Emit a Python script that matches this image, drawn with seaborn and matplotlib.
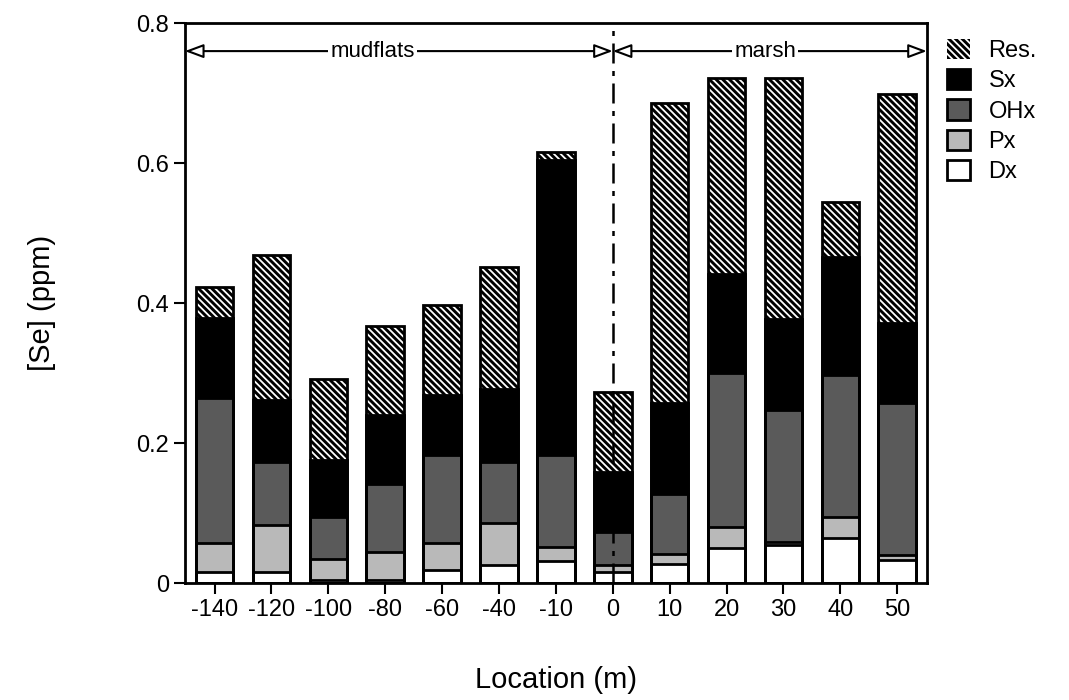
import numpy as np
import pandas as pd
import matplotlib
matplotlib.use("Agg")
import matplotlib.pyplot as plt
import seaborn as sns
from matplotlib.patches import Patch

# ---------------- data (ppm, per fraction) ----------------
locations = ["-140", "-120", "-100", "-80", "-60", "-40", "-10",
             "0", "10", "20", "30", "40", "50"]
dx  = [0.016, 0.016, 0.004, 0.004, 0.019, 0.026, 0.032, 0.016, 0.027, 0.050, 0.054, 0.065, 0.033]
px  = [0.041, 0.067, 0.031, 0.041, 0.038, 0.060, 0.020, 0.010, 0.014, 0.030, 0.005, 0.030, 0.007]
ohx = [0.207, 0.090, 0.060, 0.097, 0.126, 0.087, 0.131, 0.047, 0.086, 0.220, 0.188, 0.202, 0.218]
sx  = [0.115, 0.088, 0.081, 0.098, 0.086, 0.105, 0.421, 0.086, 0.130, 0.142, 0.131, 0.169, 0.113]
res = [0.044, 0.208, 0.116, 0.127, 0.129, 0.174, 0.012, 0.114, 0.429, 0.279, 0.343, 0.079, 0.328]
fractions = ["Res.", "Sx", "OHx", "Px", "Dx"]
yticks = [0, 0.2, 0.4, 0.6, 0.8]
ytick_labels = ["0", "0.2", "0.4", "0.6", "0.8"]
zone_labels = ["mudflats", "marsh"]

# ---------------- style ----------------
sns.set_style("ticks")
plt.rcParams["font.family"] = ["Liberation Sans", "DejaVu Sans"]
plt.rcParams["hatch.linewidth"] = 1.3
plt.rcParams["text.color"] = "black"
plt.rcParams["axes.labelcolor"] = "black"
plt.rcParams["xtick.color"] = "black"
plt.rcParams["ytick.color"] = "black"

C_OHX = "#5a5a5a"
C_PX = "#b9b9b9"
HATCH = "\\\\\\\\\\"
EW = 2.0

fig, ax = plt.subplots(figsize=(10.69, 7), dpi=100)
fig.subplots_adjust(left=0.173, right=0.867, bottom=0.167, top=0.967)

c_dx = np.array(dx)
c_px = c_dx + np.array(px)
c_ohx = c_px + np.array(ohx)
c_sx = c_ohx + np.array(sx)
c_res = c_sx + np.array(res)

df = pd.DataFrame({"loc": locations, "Dx": c_dx, "Px": c_px, "OHx": c_ohx,
                   "Sx": c_sx, "Res.": c_res})

W = 0.66
common = dict(data=df, x="loc", order=locations, width=W, ax=ax, errorbar=None)
sns.barplot(y="Res.", color="black", edgecolor="white", linewidth=0, hatch=HATCH, **common)
sns.barplot(y="Sx", color="black", edgecolor="black", linewidth=EW, **common)
sns.barplot(y="OHx", color=C_OHX, edgecolor="black", linewidth=EW, **common)
sns.barplot(y="Px", color=C_PX, edgecolor="black", linewidth=EW, **common)
sns.barplot(y="Dx", color="white", edgecolor="black", linewidth=EW, **common)
sns.barplot(y="Res.", fill=False, color="black", linewidth=EW, **common)

x0 = locations.index("0")
ax.set_xlim(-0.52, len(locations) - 0.48)
ax.set_ylim(0, 0.8)
ax.set_yticks(yticks)
ax.set_yticklabels(ytick_labels)

# dash-dot separator
ax.axvline(x0, color="black", lw=1.8, dashes=(8, 3, 2, 3), zorder=5)

# zone arrows
yarr = 0.76
aprops = dict(arrowstyle="<|-|>,head_length=0.75,head_width=0.28", fc="white",
              ec="black", lw=1.5, shrinkA=0, shrinkB=0, mutation_scale=15)
xl, xr = ax.get_xlim()
ax.annotate("", xy=(xl, yarr), xytext=(x0, yarr), arrowprops=aprops, zorder=6,
            annotation_clip=False)
ax.annotate("", xy=(x0, yarr), xytext=(xr, yarr), arrowprops=aprops, zorder=6,
            annotation_clip=False)
ax.text(2.78, yarr, zone_labels[0], ha="center", va="center", fontsize=16, zorder=7,
        bbox=dict(fc="white", ec="none", pad=1.5))
ax.text(9.68, yarr, zone_labels[1], ha="center", va="center", fontsize=16, zorder=7,
        bbox=dict(fc="white", ec="none", pad=1.5))

# axes cosmetics
for s in ax.spines.values():
    s.set_visible(True)
    s.set_linewidth(2)
    s.set_color("black")
ax.tick_params(direction="out", length=8, width=1.5, labelsize=17, colors="black")
ax.set_xlabel("Location (m)", fontsize=21, labelpad=32)
ax.set_ylabel("[Se] (ppm)", fontsize=21, labelpad=58)

# legend
handles = [
    Patch(facecolor="black", edgecolor="white", hatch=HATCH, lw=0),
    Patch(facecolor="black", edgecolor="black", lw=2),
    Patch(facecolor=C_OHX, edgecolor="black", lw=2),
    Patch(facecolor=C_PX, edgecolor="black", lw=2),
    Patch(facecolor="white", edgecolor="black", lw=2),
]
fig.legend(handles, fractions, loc="upper left", bbox_to_anchor=(0.886, 0.945),
           frameon=False, fontsize=17, handlelength=0.95, handleheight=0.95,
           labelspacing=0.3, handletextpad=0.8, borderaxespad=0, borderpad=0)

fig.savefig("out.png", dpi=100)
